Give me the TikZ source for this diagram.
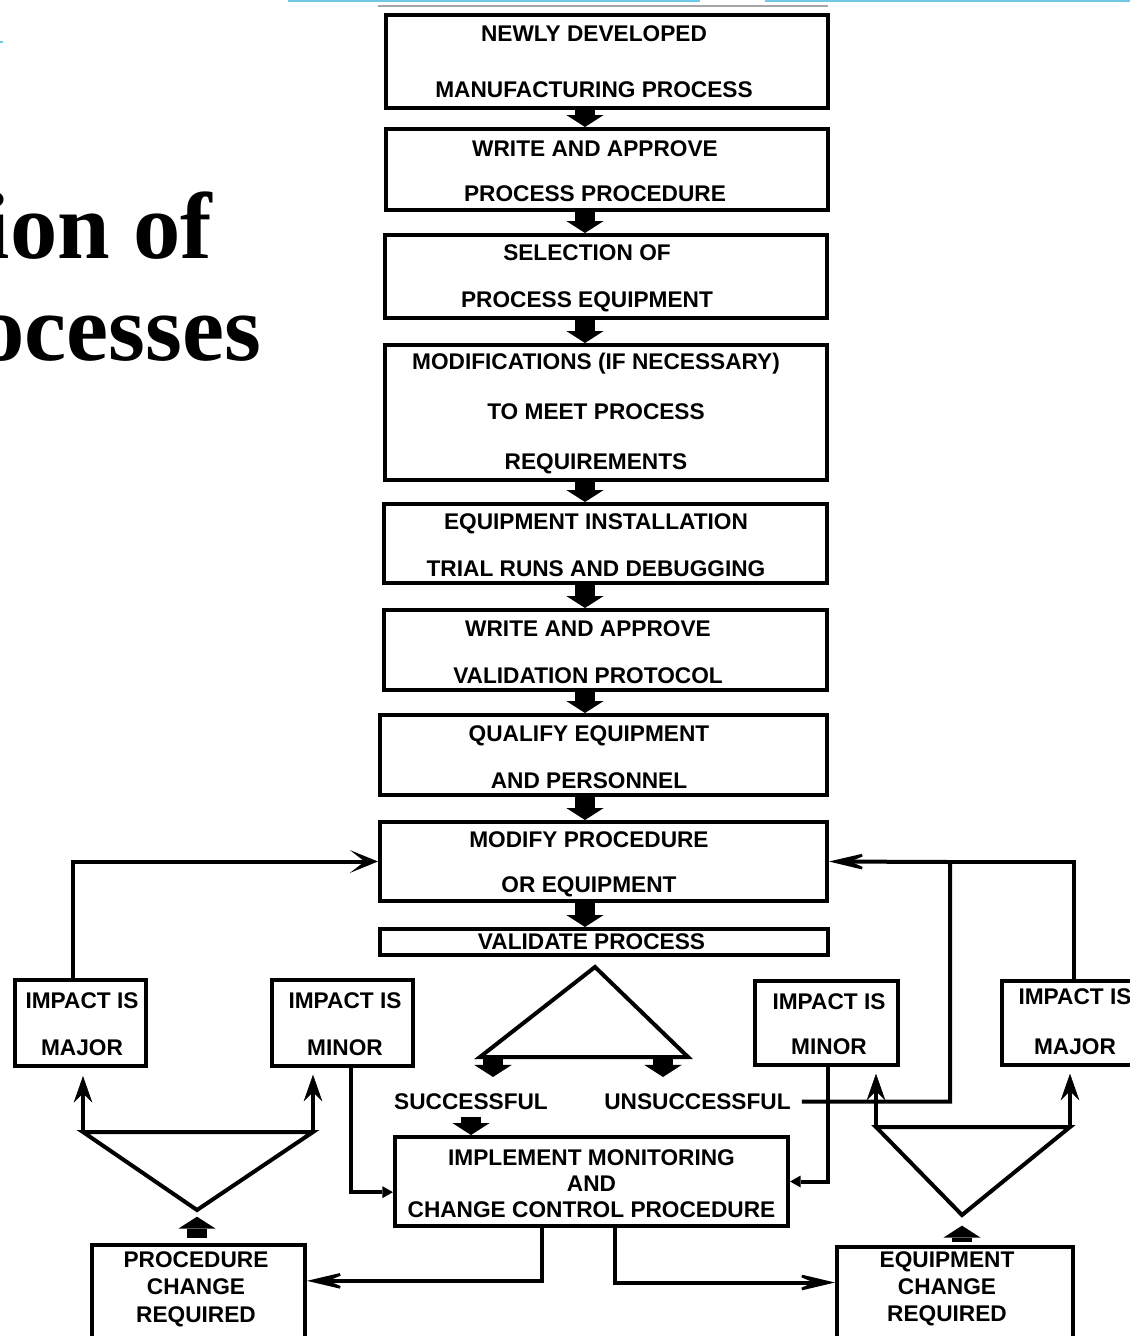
\documentclass[tikz,border=0pt]{standalone}
\usepackage{fontspec}
\newfontfamily\boxfont{Liberation Sans Bold}
\newfontfamily\titlefont{Liberation Serif Bold}
\usetikzlibrary{arrows.meta}
\definecolor{slideblue}{RGB}{110,200,230}
\tikzset{every picture/.style={line width=0.75pt}}
\tikzset{
  stepbox/.style={draw, line width=3pt, inner sep=0pt},
  txt/.style={align=center, inner sep=0pt, font=\boxfont\fontsize{17}{#1}\selectfont},
  txt/.default=20pt,
  conn/.style={line width=3pt},
  flow/.style={line width=15pt, -{Triangle[width=28pt,length=9pt,line width=0pt]}},
  spear/.style={conn, -{Stealth[length=20pt,width=14pt,inset=7pt,line width=0.5pt]}},
  barb/.style={conn, -{Stealth[length=36pt,width=17pt,inset=20pt,line width=2pt]}},
  shortbarb/.style={conn, -{Stealth[length=21pt,width=17pt,inset=11pt,line width=2pt]}},
  smalltip/.style={conn, -{Triangle[length=8pt,width=9pt,line width=0pt]}},
  ttl/.style={anchor=base east, inner sep=0pt, font=\titlefont\fontsize{71}{80}\selectfont}
}

\begin{document}
\begin{tikzpicture}[x=0.75pt,y=0.75pt,yscale=-1,xscale=1]
\useasboundingbox (0,0) rectangle (1130,1336);
\clip (0,0) rectangle (1130,1336);

%Slide title, cut at the left edge
\node[ttl] (ttl1) at (213,258) {ion of};
\node[ttl] (ttl2) at (262,360) {ocesses};
%Slide edge lines
\draw[slideblue, line width=2pt] (288,1) -- (700,1) (765,1) -- (1130,1);
\draw[slideblue, line width=1.5pt] (0,42) -- (3,42);
\draw[gray!70, line width=1.5pt] (378,6) -- (828,6);

%Shape: Rectangle (main column)
\node[stepbox, minimum width=331.5pt, minimum height=69.75pt] (b1) at (607,61) {};
\node[stepbox, minimum width=331.5pt, minimum height=60.75pt] (b2) at (607,169.5) {};
\node[stepbox, minimum width=331.5pt, minimum height=62.25pt] (b3) at (606,276.5) {};
\node[stepbox, minimum width=331.5pt, minimum height=101.25pt] (b4) at (606,412.5) {};
\node[stepbox, minimum width=332.25pt, minimum height=59.25pt] (b5) at (605.5,543.5) {};
\node[stepbox, minimum width=332.25pt, minimum height=60pt] (b6) at (605.5,650) {};
\node[stepbox, minimum width=335.25pt, minimum height=60pt] (b7) at (603.5,755) {};
\node[stepbox, minimum width=335.25pt, minimum height=59.25pt] (b8) at (603.5,861.5) {};
\node[stepbox, minimum width=336pt, minimum height=19.5pt] (b9) at (604,942) {};
\node[stepbox, minimum width=294.75pt, minimum height=66.75pt] (impl) at (591.5,1181.5) {};
%Shape: Rectangle (side boxes)
\node[stepbox, minimum width=98.25pt, minimum height=64.5pt] (lmaj) at (80.5,1023) {};
\node[stepbox, minimum width=105.75pt, minimum height=64.5pt] (lmin) at (342.5,1023) {};
\node[stepbox, minimum width=107.25pt, minimum height=63pt] (rmin) at (826.5,1023) {};
\node[stepbox, minimum width=108pt, minimum height=63pt] (rmaj) at (1074,1023) {};
\node[stepbox, minimum width=159.75pt, minimum height=69.75pt] (proc) at (198.5,1291.5) {};
\node[stepbox, minimum width=177pt, minimum height=68.25pt] (equip) at (955,1292.5) {};

% Text Node
\node[txt=42pt] (t1) at (594,62) {NEWLY DEVELOPED\\MANUFACTURING PROCESS};
\node[txt=33.75pt] (t2) at (595,171) {WRITE AND APPROVE\\PROCESS PROCEDURE};
\node[txt=35pt] (t3) at (587,278) {SELECTION OF\\PROCESS EQUIPMENT};
\node[txt=37.5pt] (t4) at (596,413.5) {MODIFICATIONS (IF NECESSARY)\\TO MEET PROCESS\\REQUIREMENTS};
\node[txt=35.25pt] (t5) at (596,545) {EQUIPMENT INSTALLATION\\TRIAL RUNS AND DEBUGGING};
\node[txt=35pt] (t6) at (588,652) {WRITE AND APPROVE\\VALIDATION PROTOCOL};
\node[txt=35pt] (t7) at (589,757) {QUALIFY EQUIPMENT\\AND PERSONNEL};
\node[txt=33.75pt] (t8) at (589,864) {MODIFY PROCEDURE\\OR EQUIPMENT};
\node[txt] (t9) at (591.5,941.5) {VALIDATE PROCESS};
\node[txt=19.7pt] (t10) at (591.5,1183.7) {IMPLEMENT MONITORING\\AND\\CHANGE CONTROL PROCEDURE};
\node[txt] (succ) at (471,1101.5) {SUCCESSFUL};
\node[txt] (unsucc) at (697.5,1101.5) {UNSUCCESSFUL};
\node[txt=35.6pt] (t11) at (82,1024) {IMPACT IS\\MAJOR};
\node[txt=35.6pt] (t12) at (345,1024) {IMPACT IS\\MINOR};
\node[txt=33.75pt] (t13) at (829,1024) {IMPACT IS\\MINOR};
\node[txt=37.5pt] (t14) at (1075,1021.5) {IMPACT IS\\MAJOR};
\node[txt=20.6pt] (t15) at (196,1289) {PROCEDURE\\CHANGE\\REQUIRED};
\node[txt=20.3pt] (t16) at (947,1289) {EQUIPMENT\\CHANGE\\REQUIRED};

%Straight Lines (main column arrows)
\coordinate (col) at (585,0);
\draw[flow] (b1.south -| col) -- (b2.north -| col);
\draw[flow] (b2.south -| col) -- (b3.north -| col);
\draw[flow] (b3.south -| col) -- (b4.north -| col);
\draw[flow] (b4.south -| col) -- (b5.north -| col);
\draw[flow] (b5.south -| col) -- (b6.north -| col);
\draw[flow] (b6.south -| col) -- (b7.north -| col);
\draw[flow] (b7.south -| col) -- (b8.north -| col);
\draw[flow] (b8.south -| col) -- (b9.north -| col);

%Shape: Triangle (validate outcome)
\coordinate (vtop) at (595,967);
\coordinate (vl) at (480,1057);
\coordinate (vr) at (688,1057);
\draw[conn] (vl) -- (vtop) -- (vr) -- cycle;
\coordinate (sa) at (493,1057);
\coordinate (ua) at (663,1057);
\draw[flow, shorten >=12pt] (sa) -- (sa |- succ.north);
\draw[flow, shorten >=12pt] (ua) -- (ua |- unsucc.north);
\draw[flow, shorten <=5pt] (succ.south) -- (succ.south |- impl.north);

%Straight Lines (loops back to modify box)
\coordinate (lup) at (73,0);
\draw[shortbarb] (lmaj.north -| lup) |- (b8.west);
\coordinate (rj) at (950,862);
\draw[barb, shorten <=8pt] (unsucc.east) -| (rj) -- (b8.east);
\draw[conn] (rj) -| (rmaj.north);
\draw[smalltip] ([xshift=6pt]lmin.south) |- ([yshift=8pt]impl.west);
\draw[smalltip] ([xshift=1pt]rmin.south) |- (impl.east);
\draw[barb] ([xshift=-37pt]impl.south) |- ([yshift=-8pt]proc.east);
\draw[barb] ([xshift=17.5pt]impl.south) |- ([yshift=-7.5pt]equip.west);

%Shape: Triangle (procedure change)
\coordinate (lt1) at (83,1132);
\coordinate (lt2) at (313,1132);
\coordinate (lt3) at (197,1210);
\draw[conn] (lt1) -- (lt2) -- (lt3) -- cycle;
\draw[spear, shorten >=6pt] (lt1) -- (lt1 |- lmaj.south);
\draw[spear, shorten >=5pt] (lt2) -- (lt2 |- lmin.south);
\draw[flow, shorten <=4pt, shorten >=5pt] (lt3 |- proc.north) -- (lt3);

%Shape: Triangle (equipment change)
\coordinate (rt1) at (876,1127);
\coordinate (rt2) at (1070,1127);
\coordinate (rt3) at (962,1215);
\draw[conn] (rt1) -- (rt2) -- (rt3) -- cycle;
\draw[spear, shorten >=5pt] (rt1) -- (rt1 |- rmin.south);
\draw[spear, shorten >=5pt] (rt2) -- (rt2 |- rmaj.south);
\draw[flow, shorten <=2pt, shorten >=8pt] (rt3 |- equip.north) -- (rt3);

\end{tikzpicture}
\end{document}
